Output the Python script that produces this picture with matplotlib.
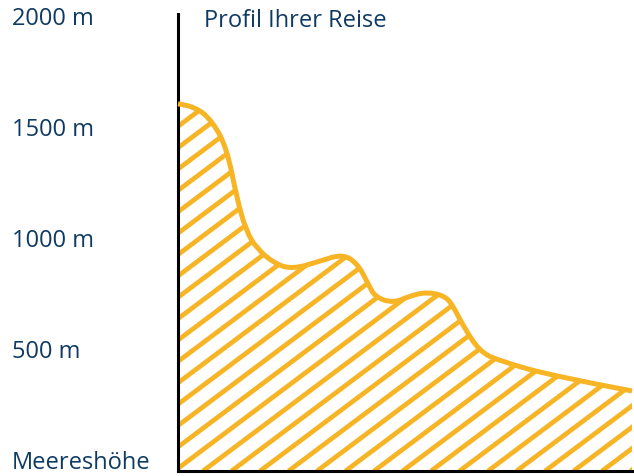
import matplotlib
matplotlib.use("Agg")
import matplotlib.pyplot as plt
import matplotlib.transforms as mtransforms
from matplotlib.path import Path
from matplotlib.patches import PathPatch
import numpy as np

# profile of the trip, distance in % of route, elevation in m
distance = [0, 3.7, 7.7, 10.8, 13.0, 15.0, 17.4, 21.4, 25.3, 31.3, 36.3, 39.6,
            41.9, 43.4, 47.4, 51.1, 54.8, 58.8, 60.6, 62.8, 66.5, 70.9, 82.6, 100]
elevation = [1631, 1622, 1550, 1428, 1203, 1059, 978, 910, 887, 923, 955, 910,
             820, 761, 734, 766, 784, 766, 721, 631, 514, 473, 405, 338]

tick_values = [2000, 1500, 1000, 500, 0]
tick_labels = ["2000 m", "1500 m", "1000 m", "500 m", "Meereshöhe"]
title = "Profil Ihrer Reise"

ORANGE = "#F7B425"
NAVY = "#0F3A62"
FONT = "Open Sans"

fig = plt.figure(figsize=(6.34, 4.77), dpi=100)
ax = fig.add_axes([178 / 634, 5 / 477, 454 / 634, 457 / 477])
ax.set_xlim(0, 100)
ax.set_ylim(-22.5, 2036)

for side in ["top", "right"]:
    ax.spines[side].set_visible(False)
for side in ["left", "bottom"]:
    ax.spines[side].set_linewidth(2.2)
    ax.spines[side].set_color("black")
ax.set_xticks([])
ax.set_yticks([])

# smooth curve through the read points (quadratic bezier segments)
pts = np.column_stack([distance, elevation])
verts = [pts[0]]
codes = [Path.MOVETO]
for i in range(1, len(pts) - 1):
    mid = (pts[i] + pts[i + 1]) / 2
    end = mid if i < len(pts) - 2 else pts[-1]
    verts += [pts[i], end]
    codes += [Path.CURVE3, Path.CURVE3]
curve = Path(verts, codes)

# closed area under the curve, used to clip the hatch
y0 = ax.get_ylim()[0]
area_verts = [(0, y0)] + list(verts) + [(100, y0), (0, y0)]
area_codes = [Path.MOVETO, Path.LINETO] + codes[1:] + [Path.LINETO, Path.CLOSEPOLY]
area = PathPatch(Path(area_verts, area_codes), facecolor="none", edgecolor="none")
ax.add_patch(area)

# hatch lines drawn in pixel space, slope ~37 degrees
fig.canvas.draw()
ybot = 477 - 472
slope = 0.75
step = 28.5
phase = 203
for k in range(-30, 30):
    xs = phase + k * step
    line = ax.plot([xs, xs + 700], [ybot, ybot + 700 * slope], color=ORANGE,
                   lw=3.4, transform=mtransforms.IdentityTransform(),
                   solid_capstyle="butt", zorder=2)[0]
    line.set_clip_path(area)

ax.add_patch(PathPatch(curve, facecolor="none", edgecolor=ORANGE, lw=3.6,
                       capstyle="butt", joinstyle="round", zorder=3, clip_on=False))

# y labels at the left edge of the figure, nudged up a few pixels
trans = mtransforms.blended_transform_factory(fig.transFigure, ax.transData)
trans = trans + mtransforms.ScaledTranslation(0, 4 / 100, fig.dpi_scale_trans)
for v, lab in zip(tick_values, tick_labels):
    ax.text(12 / 634, v, lab, transform=trans, ha="left", va="center",
            fontsize=17, color=NAVY, family=FONT)

fig.text(204 / 634, 1 - 21 / 477, title, ha="left", va="center",
         fontsize=17, color=NAVY, family=FONT)

fig.savefig("out.png", dpi=100)
